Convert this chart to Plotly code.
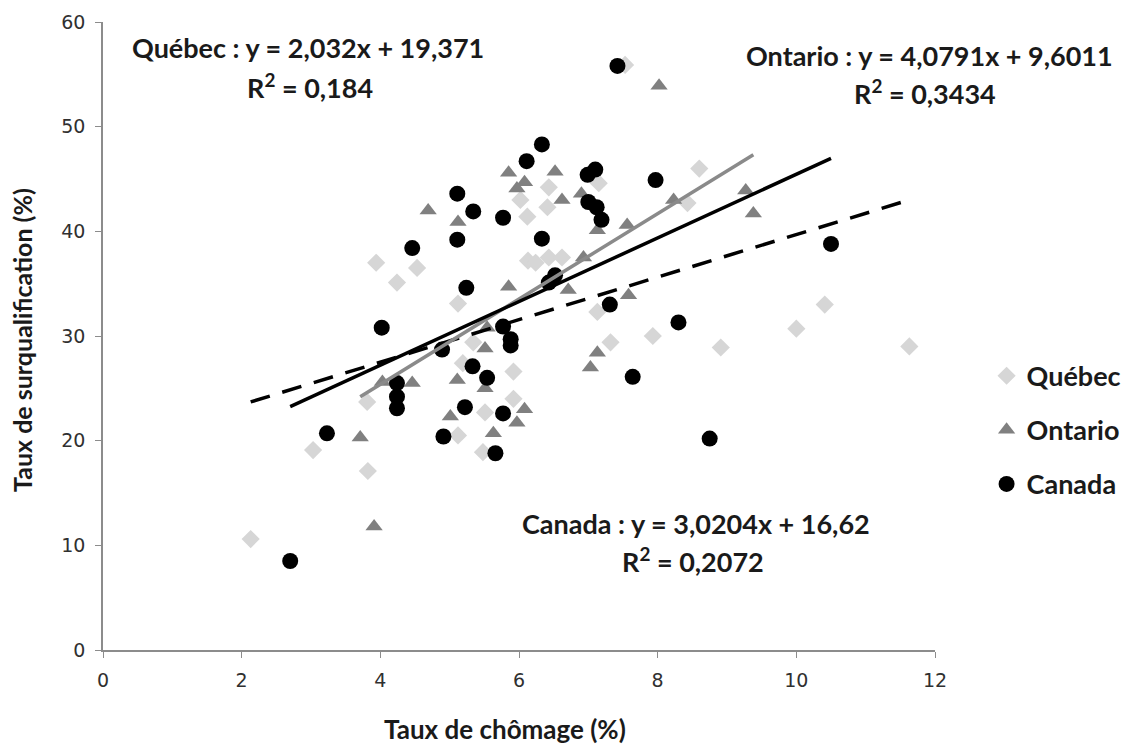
import plotly.graph_objects as go

# ---- Data ----
quebec_x = [2.13, 3.03, 3.82, 3.81, 3.94, 4.24, 4.53, 5.12, 5.34, 5.19, 5.92, 5.92, 5.51, 5.12, 5.48,
            6.02, 6.12, 6.13, 6.24, 6.41, 6.43, 6.43, 6.62, 7.15, 7.13, 7.32, 7.53, 7.93, 8.43, 8.60,
            8.91, 10.0, 10.41, 11.63]
quebec_y = [10.6, 19.1, 17.1, 23.7, 37.0, 35.1, 36.5, 33.1, 29.4, 27.4, 26.6, 24.0, 22.7, 20.5, 18.9,
            43.0, 41.4, 37.2, 37.0, 42.3, 44.2, 37.5, 37.5, 44.6, 32.3, 29.4, 55.9, 30.0, 42.7, 46.0,
            28.9, 30.7, 33.0, 29.0]

ontario_x = [3.71, 3.91, 4.03, 4.46, 4.69, 5.12, 5.01, 5.11, 5.51, 5.54, 5.51, 5.63, 5.85, 5.85, 5.97,
             5.97, 6.08, 6.08, 6.52, 6.62, 6.71, 6.90, 6.93, 7.03, 7.13, 7.13, 7.56, 7.58, 8.02, 8.23,
             9.27, 9.38]
ontario_y = [20.3, 11.8, 25.6, 25.5, 42.0, 40.9, 22.3, 25.8, 28.8, 30.8, 25.0, 20.7, 45.6, 34.7, 44.1,
             21.7, 44.7, 23.0, 45.7, 43.0, 34.4, 43.6, 37.5, 27.0, 40.1, 28.4, 40.6, 33.9, 53.9, 43.0,
             43.9, 41.7]

canada_x = [2.70, 3.23, 4.02, 4.24, 4.24, 4.24, 4.46, 4.89, 4.91, 5.11, 5.11, 5.22, 5.24, 5.33, 5.34,
            5.54, 5.66, 5.77, 5.77, 5.77, 5.88, 5.88, 6.11, 6.33, 6.33, 6.43, 6.52, 6.99, 7.00, 7.10,
            7.12, 7.19, 7.31, 7.42, 7.64, 7.97, 8.30, 8.75, 10.5]
canada_y = [8.5, 20.7, 30.8, 25.5, 24.2, 23.1, 38.4, 28.7, 20.4, 43.6, 39.2, 23.2, 34.6, 27.1, 41.9,
            26.0, 18.8, 41.3, 30.9, 22.6, 29.7, 29.1, 46.7, 48.3, 39.3, 35.1, 35.8, 45.4, 42.8, 45.9,
            42.3, 41.1, 33.0, 55.8, 26.1, 44.9, 31.3, 20.2, 38.8]

# Trend lines as drawn in the picture (slope, intercept)
quebec_fit = (2.032, 19.371)
ontario_fit = (4.08, 9.05)
canada_fit = (3.04, 15.05)

# Equation labels as printed on the chart
quebec_eq = ["Québec : y = 2,032x + 19,371", "R<sup>2</sup> = 0,184"]
ontario_eq = ["Ontario : y = 4,0791x + 9,6011", "R<sup>2</sup> = 0,3434"]
canada_eq = ["Canada : y = 3,0204x + 16,62", "R<sup>2</sup> = 0,2072"]

x_ticks = [0, 2, 4, 6, 8, 10, 12]
y_ticks = [0, 10, 20, 30, 40, 50, 60]

FONT = "Lato"
TXT = "#1a1a1a"

fig = go.Figure()

fig.add_trace(go.Scatter(x=quebec_x, y=quebec_y, mode="markers", name="Québec",
                         legendgroup="q",
                         marker=dict(symbol="diamond", size=14, color="#d6d6d6")))
fig.add_trace(go.Scatter(x=ontario_x, y=ontario_y, mode="markers", name="Ontario",
                         legendgroup="o",
                         marker=dict(symbol="triangle-up", size=15, color="#808080")))
fig.add_trace(go.Scatter(x=canada_x, y=canada_y, mode="markers", name="Canada",
                         legendgroup="c",
                         marker=dict(symbol="circle", size=16, color="#000000")))


def fit_line(xs, fit):
    lo, hi = min(xs), max(xs)
    return [lo, hi], [fit[0] * lo + fit[1], fit[0] * hi + fit[1]]


qx, qy = fit_line(quebec_x, quebec_fit)
ox, oy = fit_line(ontario_x, ontario_fit)
cx, cy = fit_line(canada_x, canada_fit)

fig.add_trace(go.Scatter(x=qx, y=qy, mode="lines", showlegend=False, hoverinfo="skip",
                         line=dict(color="#000000", width=3.5, dash="20px,13px")))
fig.add_trace(go.Scatter(x=ox, y=oy, mode="lines", showlegend=False, hoverinfo="skip",
                         line=dict(color="#8a8a8a", width=3.5)))
fig.add_trace(go.Scatter(x=cx, y=cy, mode="lines", showlegend=False, hoverinfo="skip",
                         line=dict(color="#000000", width=3.5)))

axis_common = dict(showgrid=False, zeroline=False, showline=True, linecolor="#8c8c8c",
                   linewidth=1.5, ticks="outside", ticklen=6, tickcolor="#8c8c8c",
                   ticklabelstandoff=6,
                   tickfont=dict(family="DejaVu Sans", size=19, color="#303030"))

fig.update_layout(
    width=1128, height=747,
    margin=dict(l=103, r=193, t=22, b=97, autoexpand=False),
    plot_bgcolor="white", paper_bgcolor="white",
    xaxis=dict(range=[0, 12], tickvals=x_ticks, **axis_common),
    yaxis=dict(range=[0, 60], tickvals=y_ticks, **axis_common),
    showlegend=True,
    legend=dict(x=1.062, y=0.35, xanchor="left", yanchor="middle",
                font=dict(family=FONT, size=27, color=TXT, weight="bold"),
                tracegroupgap=16, itemwidth=30, bgcolor="rgba(0,0,0,0)"),
)


def px_to_paper(px, py):
    return (px - 103) / 832, (650 - py) / 628


def add_text(text, px, py, size=27, angle=0):
    xp, yp = px_to_paper(px, py)
    fig.add_annotation(x=xp, y=yp, xref="paper", yref="paper", text=text, showarrow=False,
                       xanchor="center", yanchor="middle", textangle=angle,
                       font=dict(family=FONT, size=size, color=TXT, weight="bold"))


add_text(quebec_eq[0], 308, 48)
add_text(quebec_eq[1], 310, 86)
add_text(ontario_eq[0], 929, 55)
add_text(ontario_eq[1], 925, 92)
add_text(canada_eq[0], 696, 523)
add_text(canada_eq[1], 693, 560)

add_text("Taux de chômage (%)", 505, 729, size=26)
add_text("Taux de surqualification (%)", 22, 340, size=25, angle=-90)

fig.write_html("out.html", config={"displayModeBar": False},
               post_script="document.body.style.margin='0';")
